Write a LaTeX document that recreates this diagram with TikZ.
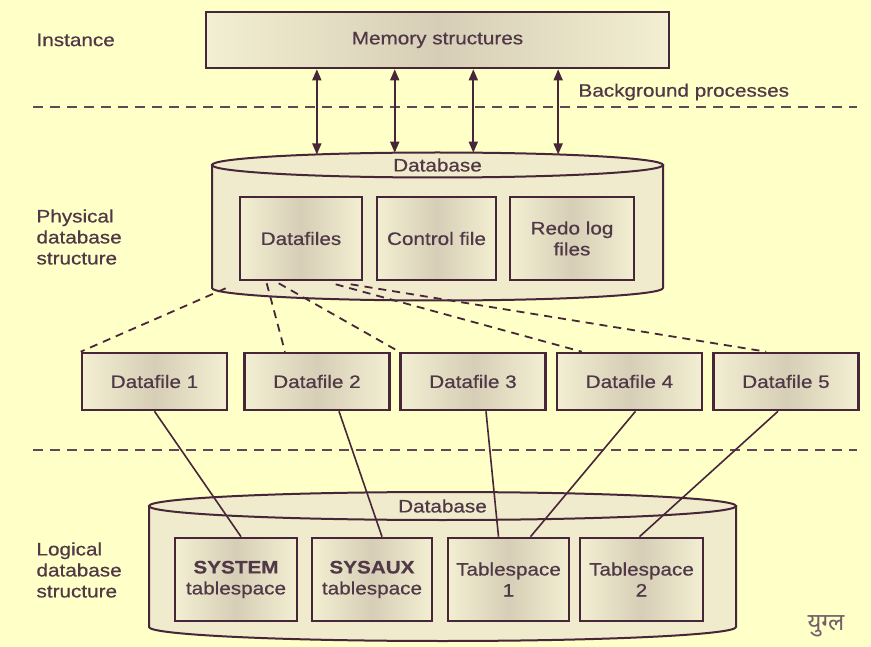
\documentclass[tikz,border=0pt]{standalone}
\usepackage{fontspec}
\setmainfont{Liberation Sans}[FakeStretch=1.15,FakeBold=0.6]
\newfontfamily\devfont[Script=Devanagari]{Noto Sans}
\usepackage{tikz}
\usetikzlibrary{shapes.geometric,arrows.meta,calc}
\definecolor{PaperYellow}{RGB}{255,255,200}
\definecolor{InkPurple}{RGB}{72,38,58}
\definecolor{TextPurple}{RGB}{80,56,70}
\definecolor{BoxLight}{RGB}{243,239,210}
\definecolor{BoxShade}{RGB}{214,206,182}
\definecolor{CylFill}{RGB}{240,235,204}

\begin{document}
\begin{tikzpicture}[x=1pt,y=-1pt,
  every node/.style={font=\fontsize{18}{21}\selectfont,text=TextPurple},
  filebox/.style={draw=InkPurple,line width=2.6pt,left color=BoxLight,right color=BoxLight,
    middle color=BoxShade,inner sep=0pt,align=center},
  cylbody/.style={draw=InkPurple,line width=2pt,fill=CylFill},
  dbtop/.style={ellipse,draw=InkPurple,line width=2pt,fill=CylFill,inner sep=0pt,outer sep=0pt},
  sepline/.style={draw=InkPurple!85,line width=2pt,dash pattern=on 10pt off 7pt},
  dashlink/.style={draw=InkPurple,line width=1.8pt,dash pattern=on 8pt off 6pt},
  link/.style={draw=InkPurple,line width=1.6pt},
  bgarrow/.style={draw=InkPurple,line width=1.7pt,{Triangle[length=11pt,width=9pt]}-{Triangle[length=11pt,width=9pt]}}]
  % paper
  \fill[PaperYellow] (0,0) rectangle (871,647);
  \useasboundingbox (0,0) rectangle (871,647);
  % level labels
  \node[anchor=west] (inst) at (33,40) {Instance};
  \node[anchor=west,align=left] (phys) at (33,237) {Physical\\database\\structure};
  \node[anchor=west,align=left] (logi) at (33,570) {Logical\\database\\structure};
  % separators
  \draw[sepline] (33,107) -- (857,107);
  \draw[sepline] (33,450) -- (857,450);
  % instance
  \node[filebox,minimum width=463pt,minimum height=56pt] (mem) at (437.5,40) {Memory structures};
  \node[anchor=west] (bgp) at (575,92) {Background processes};
  % physical database
  \draw[cylbody] (212,165) -- (212,288)
    arc[start angle=180,end angle=360,x radius=225.5pt,y radius=12.5pt] -- (663,165) -- cycle;
  \node[dbtop,minimum width=451pt,minimum height=25pt] (pdbtop) at (437.5,165) {Database};
  \node[filebox,minimum width=122pt,minimum height=83pt] (datafiles) at (301,238.5) {Datafiles};
  \node[filebox,minimum width=119pt,minimum height=83pt] (ctrl) at (436.5,238.5) {Control file};
  \node[filebox,minimum width=124pt,minimum height=83pt] (redo) at (572,238.5) {Redo log\\files};
  % datafiles
  \foreach \n/\x in {1/154.5,2/317,3/473,4/629.5,5/786}
    \node[filebox,minimum width=145pt,minimum height=57pt] (df\n) at (\x,381.5) {Datafile \n};
  % logical database
  \draw[cylbody] (149,506) -- (149,627)
    arc[start angle=180,end angle=360,x radius=293.5pt,y radius=14pt] -- (736,506) -- cycle;
  \node[dbtop,minimum width=587pt,minimum height=28pt] (ldbtop) at (442.5,506) {Database};
  \node[filebox,minimum width=122pt,minimum height=83pt] (system) at (236,579.5) {\textbf{SYSTEM}\\tablespace};
  \node[filebox,minimum width=120pt,minimum height=83pt] (sysaux) at (372,579.5) {\textbf{SYSAUX}\\tablespace};
  \node[filebox,minimum width=121pt,minimum height=83pt] (ts1) at (508.5,579.5) {Tablespace\\1};
  \node[filebox,minimum width=123pt,minimum height=83pt] (ts2) at (641.5,579.5) {Tablespace\\2};
  % background processes
  \foreach \a in {175,164,19,5}
    \draw[bgarrow] (mem.south -| pdbtop.\a) -- (pdbtop.\a);
  % datafiles to files
  \draw[dashlink] ([shift={(-13,7)}]datafiles.south west) -- (df1.north west);
  \draw[dashlink] ([shift={(28,2)}]datafiles.south west) -- ([shift={(-32,0)}]df2.north);
  \draw[dashlink] ([shift={(40,2)}]datafiles.south west) -- (df3.north west);
  \draw[dashlink] ([shift={(97,3)}]datafiles.south west) -- ([shift={(26,0)}]df4.north west);
  \draw[dashlink] ([shift={(112,3)}]datafiles.south west) -- ([shift={(54,0)}]df5.north west);
  % files to tablespaces
  \draw[link] (df1.south) -- ([shift={(5,0)}]system.north);
  \draw[link] ([shift={(22,0)}]df2.south) -- ([shift={(10,0)}]sysaux.north);
  \draw[link] ([shift={(13,0)}]df3.south) -- ([shift={(-10,0)}]ts1.north);
  \draw[link] ([shift={(6,0)}]df4.south) -- ([shift={(22,0)}]ts1.north);
  \draw[link] ([shift={(-8,0)}]df5.south) -- ([shift={(-2,0)}]ts2.north);
  % mark
  \node[font=\devfont\fontsize{24}{28}\selectfont,text=TextPurple!80] (mark) at (826,626) {युग्ल};
\end{tikzpicture}
\end{document}
